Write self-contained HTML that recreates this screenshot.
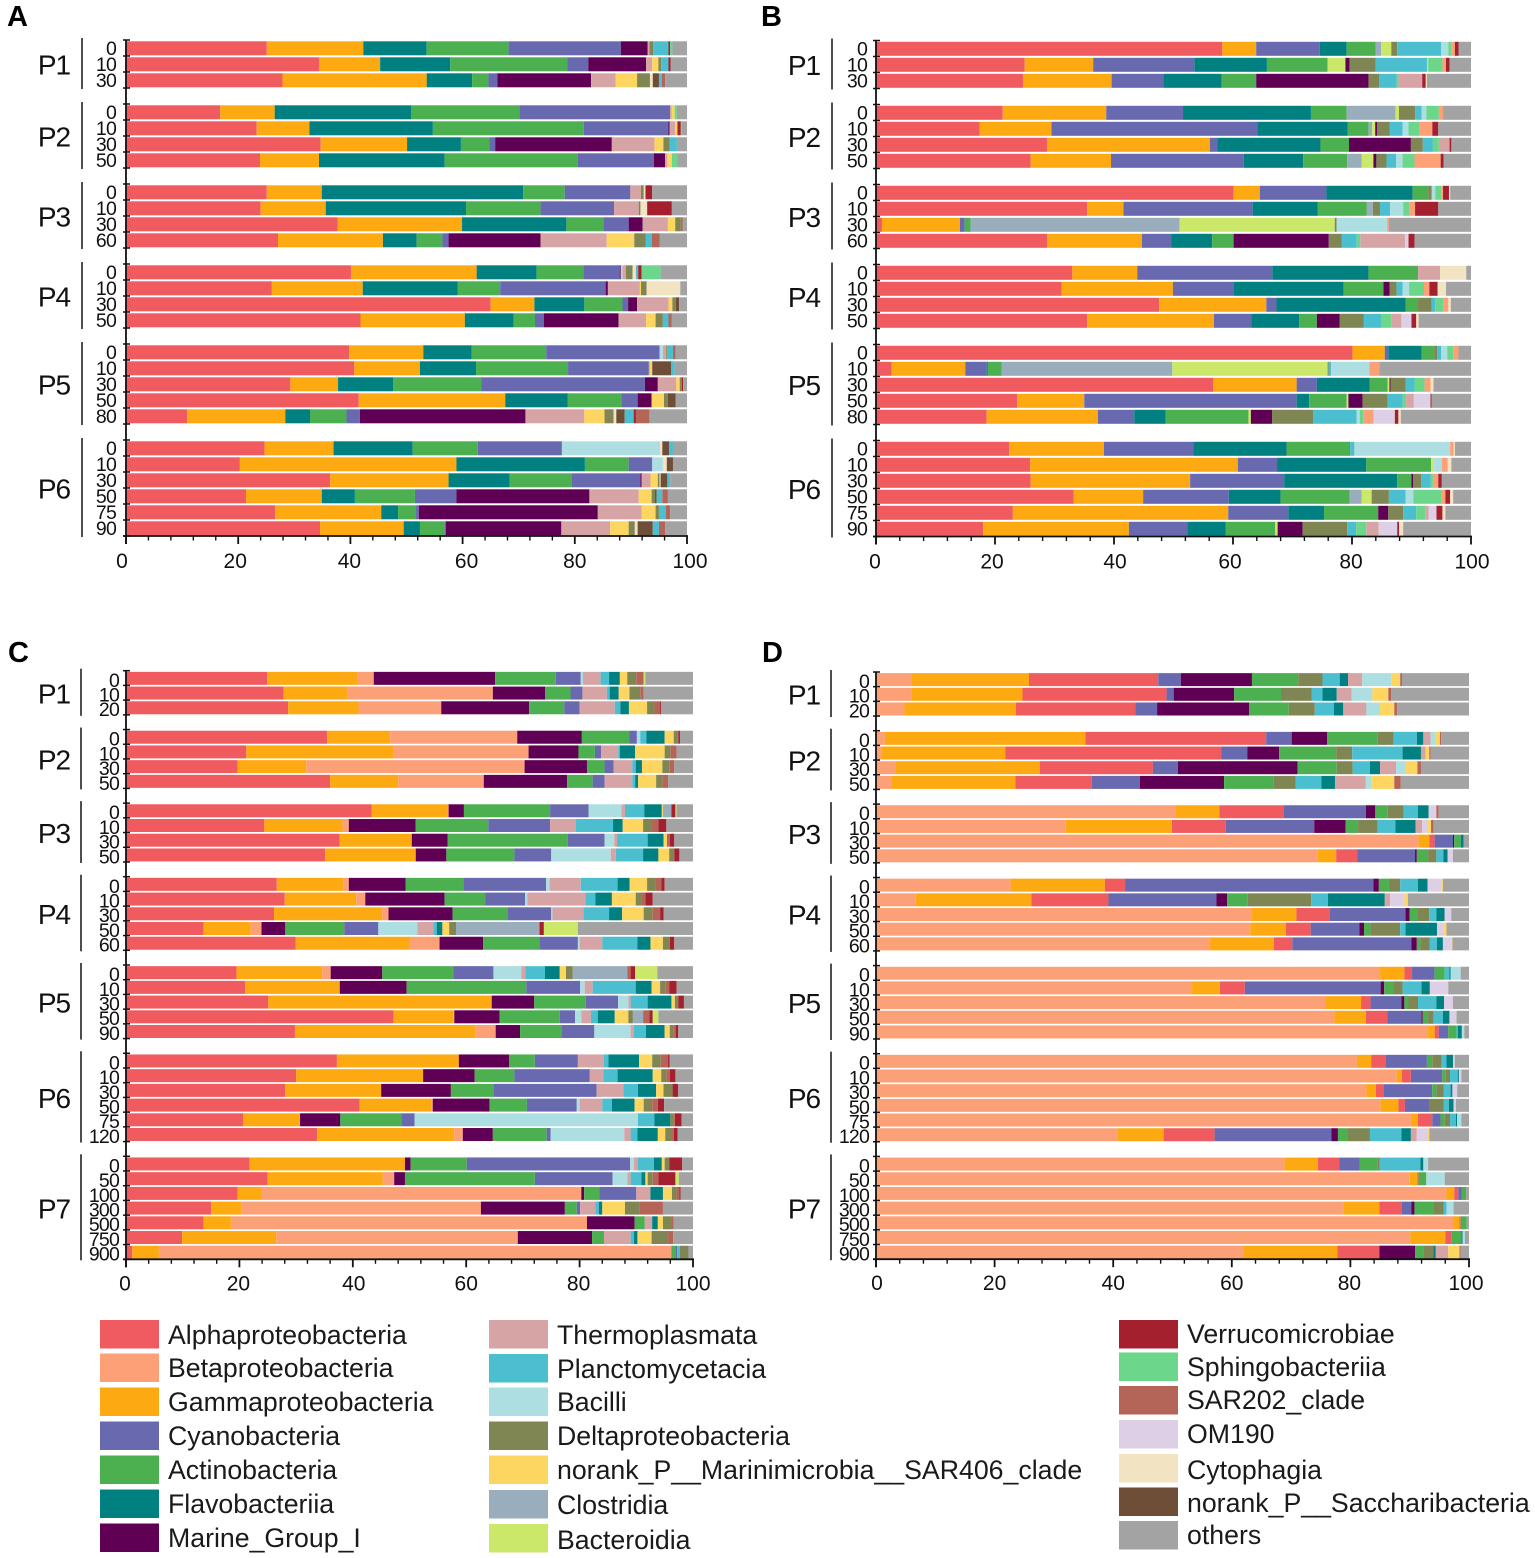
<!DOCTYPE html>
<html lang="en">
<head>
<meta charset="utf-8">
<title>Bacterial class composition by depth</title>
<style>
html,body{margin:0;padding:0;background:#fff;}
svg{display:block;font-family:"Liberation Sans",Arial,sans-serif;}
</style>
</head>
<body>
<svg id="figure" xmlns="http://www.w3.org/2000/svg" width="1535" height="1558" viewBox="0 0 1535 1558">
<rect x="0" y="0" width="1535" height="1558" fill="#ffffff"/>
</svg>
<script>
const taxonNames={a:'Alphaproteobacteria',u:'Betaproteobacteria',g:'Gammaproteobacteria',y:'Cyanobacteria',c:'Actinobacteria',f:'Flavobacteriia',m:'Marine_Group_I',t:'Thermoplasmata',p:'Planctomycetacia',b:'Bacilli',d:'Deltaproteobacteria',s:'norank_P__Marinimicrobia__SAR406_clade',l:'Clostridia',n:'Bacteroidia',v:'Verrucomicrobiae',h:'Sphingobacteriia',r:'SAR202_clade',w:'OM190',e:'Cytophagia',k:'norank_P__Saccharibacteria',o:'others'};
const taxonColors={a:'#EF5B5F',u:'#FCA077',g:'#FDAA12',y:'#6869AF',c:'#4CAF50',f:'#008080',m:'#600055',t:'#D7A4A6',p:'#4BBFD0',b:'#ACDEE2',d:'#7F8653',s:'#FDD662',l:'#9AADBD',n:'#CBE86B',v:'#A5202E',h:'#6CD68A',r:'#B56557',w:'#DDCFE5',e:'#F2E3C2',k:'#6F4E37',o:'#A3A3A3'};
const xTickLabels=[0,20,40,60,80,100];

const panelAGroups=['P1','P2','P3','P4','P5','P6'];
const panelADepths=[[0,10,30],[0,10,30,50],[0,10,30,60],[0,10,30,50],[0,10,30,50,80],[0,10,30,50,75,90]];
const panelAOrder=['a','g','f','c','y','m','b','t','s','d','e','k','p','v','h','r','o'];
const panelAValues=[
[25.1,17.2,11.3,14.6,20,4.8,0,.3,0,.7,0,0,2.7,.3,.4,0,2.6],
[34.4,10.9,12.5,20.9,3.7,10.3,0,1.1,1.1,.5,0,0,1.3,.4,0,0,2.9],
[27.9,25.7,8.1,2.9,1.6,16.7,0,4.4,3.8,2.3,.5,1.1,.5,0,0,.6,3.9],
[16.8,9.7,24.3,19.3,26.9,0,0,.3,.5,0,0,0,0,0,.4,0,1.8],
[23.3,9.4,22,26.9,15.1,.2,0,1,.4,0,0,0,0,.6,.2,0,.9],
[34.7,15.4,9.6,5.1,1,20.8,0,7.6,1.6,1.1,0,0,1.3,0,0,0,1.8],
[23.9,10.5,22.4,23.7,13.6,2,0,.4,.8,0,0,0,0,0,1,0,1.7],
[25.1,9.8,35.9,7.4,11.7,0,0,1.9,0,.5,.3,0,0,1.2,0,0,6.2],
[24,11.6,25,13.3,13.1,0,0,4.4,0,.3,1.2,0,0,4.4,0,0,2.7],
[37.7,22.2,18.6,6.6,4.5,2.5,0,4.5,1.3,1,0,0,0,0,0,.3,.8],
[27.1,18.7,6,4.6,1.1,16.4,0,11.8,4.9,2,0,0,1.1,0,0,1.4,4.9],
[40.1,22.4,10.7,8.3,6.5,.2,.3,.6,0,1.2,.6,0,.4,.6,3.4,0,4.7],
[26,16.2,16.9,7.6,18.8,.4,0,5.7,.2,1,6,0,0,0,0,0,1.2],
[65,7.8,8.9,6.8,1,1.6,0,5.6,.7,.6,0,.6,0,0,0,0,1.4],
[41.8,18.6,8.7,3.8,1.6,13.3,0,4.9,1.7,1.3,0,0,1,0,0,.6,2.7],
[39.8,13.2,8.6,13.3,20.2,0,.6,.6,0,.2,0,0,1,0,0,.5,2],
[40.7,11.7,10,16.4,14.4,0,0,.2,.4,0,0,3.4,.6,0,0,0,2.2],
[29.3,8.5,9.8,15.7,29.2,2.3,0,3.3,.6,.4,0,0,0,.2,0,0,.7],
[41.5,26.1,11.1,9.6,2.9,2.5,0,0,2.2,.7,0,1.4,0,0,0,0,2],
[10.9,17.5,4.4,6.5,2.4,29.5,0,10.5,3.6,1.6,.5,1.5,1.6,.4,0,2.4,6.7],
[24.7,12.3,14.1,11.6,15,0,17.5,0,0,0,.4,1.2,.7,0,0,0,2.5],
[20.3,38.6,22.9,7.8,4.2,0,1.9,0,0,0,.7,1.1,0,0,0,0,2.5],
[36.4,21.1,10.9,11.1,12.2,.2,0,1.6,1.3,.3,.2,1.2,.5,0,0,0,3],
[21.4,13.5,5.9,10.7,7.4,23.7,0,8.8,2.3,.6,0,.3,1,0,0,1,3.4],
[26.6,18.9,3,3.2,.5,31.9,0,7.8,2.5,.6,0,0,1.2,0,0,.8,3],
[34.6,14.9,2.9,4.4,.2,20.6,0,8.7,3.3,1.1,.5,2.7,1.1,0,0,1.1,3.9]
];

const panelBGroups=['P1','P2','P3','P4','P5','P6'];
const panelBDepths=[[0,10,30],[0,10,30,50],[0,10,30,60],[0,10,30,50],[0,10,30,50,80],[0,10,30,50,75,90]];
const panelBOrder=['a','g','y','f','c','l','n','m','d','p','b','h','t','u','w','v','e','o'];
const panelBValues=[
[58.2,5.7,10.7,4.5,4.9,.9,1.7,0,1,7.4,1.2,.5,0,.6,0,.6,0,2.1],
[25,11.5,17,12.2,10.2,0,3,.7,4.4,8.6,.2,2.4,0,.6,0,.6,0,3.6],
[24.7,14.9,8.7,9.8,5.8,0,0,18.9,1.8,2.9,0,.3,4,0,0,.6,.2,7.4],
[21.3,17.4,12.9,21.5,6,8.2,.6,0,2.7,1.1,.8,2.1,0,.7,0,0,0,4.7],
[17.4,12.1,34.6,15.2,3.5,.6,.5,.3,2.1,2.2,1,1.9,0,2.1,0,1,0,5.5],
[28.8,27.3,1.3,17.3,4.8,0,0,10.4,2,1.7,0,1,1.8,0,0,.3,0,3.3],
[26,13.5,22.3,10,7.4,2.4,2,.5,1.7,1.6,1.1,2,0,4.4,0,.5,0,4.6],
[60.1,4.4,11.2,14.5,2.6,0,0,0,.6,0,.6,1,0,.3,0,1,.2,3.5],
[35.5,6.1,21.7,10.9,8.3,1,0,0,1.2,1.7,2.2,1,0,1,0,3.9,0,5.5],
[1,13.1,.8,0,1,35.1,26.1,0,.3,0,8.5,0,0,.3,0,0,0,13.8],
[28.8,15.9,4.9,6.9,3.6,0,0,16,2.2,2.5,0,.6,7.5,0,.6,1,0,9.5],
[33,10.9,22.7,16.2,8.3,0,0,0,0,0,0,0,3.7,0,0,0,4.4,.8],
[31.2,18.7,10.2,18.5,6.7,0,0,1,1.2,1,1.1,2.5,0,.9,0,1.4,1.4,4.2],
[47.6,18,1.7,21.7,2.1,0,0,0,2.3,.6,0,1.4,0,.8,0,0,.4,3.4],
[35.5,21.3,6.3,8,3,0,0,3.8,4.1,3,0,1.6,1.7,0,1.7,.8,.4,8.8],
[80.1,5.4,.6,5.6,2.1,0,0,0,.5,.7,1,1,0,.9,0,0,0,2.1],
[2.6,12.4,3.6,.2,2.3,28.7,26.1,0,.2,.4,6.4,0,0,1.7,0,0,0,15.4],
[56.7,14,3.4,8.9,3,0,.3,.2,2.5,1.5,0,1.7,0,1,0,0,.5,6.3],
[23.7,11.3,35.7,2.1,6.3,0,.3,2.4,4.2,2.5,0,.6,1.3,0,2.8,.2,0,6.6],
[18.6,18.7,6.1,5.3,13.9,0,.4,3.6,6.9,7.3,.5,.6,0,1.7,3.6,.6,.4,11.8],
[22.4,15.9,15,15.7,10.5,0,0,0,.2,.7,16.1,0,0,.6,0,0,.2,2.7],
[25.9,34.9,6.6,15,10.9,0,.5,0,0,0,1.3,0,0,1,0,0,.6,3.3],
[26,26.8,15.8,19,2.4,0,0,.3,1.3,1.6,0,.4,0,.9,0,.6,0,4.9],
[33.2,11.7,14.4,8.7,11.6,2,1.7,0,2.9,2.8,1.3,4.8,0,.6,0,.8,.5,3],
[23,36.2,10.1,6,9.1,0,0,1.7,2.5,2.2,0,1.5,.6,0,1.3,1,.5,4.3],
[18,24.5,9.8,6.5,8.3,0,.4,4.2,7.5,1.5,0,1.7,2.1,0,3.1,.3,.7,11.4]
];

const panelCGroups=['P1','P2','P3','P4','P5','P6','P7'];
const panelCDepths=[[0,10,20],[0,10,30,50],[0,10,30,50],[0,10,30,50,60],[0,10,30,50,90],[0,10,30,50,75,120],[0,50,100,300,500,750,900]];
const panelCOrder=['a','g','u','m','c','y','b','t','p','f','s','d','l','r','v','n','o'];
const panelCValues=[
[24.9,16,2.8,21.4,10.7,4.4,.4,3.1,1.5,1.9,1.3,1.6,0,1.3,0,.3,8.4],
[27.8,11.3,25.6,9.2,4.5,2.1,0,4.3,.5,1.6,1.9,1.9,0,.6,0,0,8.7],
[28.6,12.4,14.6,15.5,6.2,2.7,0,6.2,1,1.5,3.2,1.3,0,1,.2,0,5.6],
[35.5,11.1,22.4,11.4,8.4,1.3,.6,0,1.1,3.2,1.6,.6,0,.2,.3,0,2.3],
[21.2,26,23.8,8.8,2.9,1.1,0,3,.3,2.7,5.2,1,0,1.1,0,0,2.9],
[19.7,12.1,38.5,11,3.1,1.6,0,3.3,.6,1.1,3.6,1.3,0,.8,0,0,3.3],
[36,12,15.1,14.7,4.5,2.1,0,4.9,.5,.5,3.2,1.1,0,1,0,0,4.4],
[43.3,13.4,.2,2.7,15.2,6.8,5.8,.6,3.4,3.1,.2,0,1.5,0,.7,.2,2.9],
[24.4,13.8,1.1,11.8,12.8,10.9,0,4.5,6.6,1.7,3.6,1.4,0,1.3,1.4,0,4.7],
[37.7,12.7,0,6.3,21.2,6.5,1.7,.5,5.4,2.8,.6,0,0,.5,.8,0,3.3],
[35.1,16,0,5.4,12,6.5,10.5,.9,4.8,2.7,1.9,.9,0,0,.9,0,2.4],
[26.6,11.7,1,10,10.2,14.6,.6,5.5,6.5,2.1,3.1,1.5,0,1,.6,0,5],
[28,12.6,1.6,14,7.2,7,.4,10.2,1.8,2.9,4.2,1.1,0,.6,1.3,0,7.1],
[26.1,19.1,1.1,11.3,9.7,7.7,.2,5.5,4.5,2.3,3.8,1.6,0,1.3,.6,0,5.2],
[13.7,8.3,1.9,4.2,10.4,6,6.9,2.8,.6,1,1.2,1.2,14.6,.2,.7,6,20.3],
[29.9,20.1,5.3,7.7,9.9,6.8,.3,4,6.2,2.3,2.2,1.2,0,0,.8,0,3.3],
[19.5,15.1,1.5,9.1,12.5,7.1,4.9,.7,3.5,2.6,1.1,1.2,9.6,.6,.8,3.9,6.3],
[21,16.7,0,11.8,21.1,9.5,.8,1.4,7.6,2.8,1.5,1,0,.6,1.3,0,2.9],
[25.1,39.4,0,7.5,9.1,5.7,1.8,.4,3,4.2,.6,.6,0,0,1,0,1.6],
[47.2,10.5,.2,8,10.6,2.7,1.1,1.7,1.2,3,2.4,.8,1.8,1.1,.6,1,6.1],
[29.8,31.8,3.6,4.3,7.4,5.7,6.4,.6,2.1,3.3,.9,.6,0,.5,.4,0,2.6],
[37.2,21.5,0,8.9,4.5,7.6,0,4.6,.8,5.4,2.3,1.5,0,1.3,.3,0,4.1],
[30,22.4,0,9.1,7,13.3,0,2.4,2.5,6.2,1.5,.9,0,.6,1,0,3.1],
[28.1,16.9,0,12.3,7.6,18.1,0,4.7,2.6,3.2,1.3,1.6,0,0,1,0,2.6],
[41.2,12.7,.2,10,6.6,8.8,.5,4,1.7,4,1.6,1.5,0,1,1.1,0,5.1],
[20.7,10,0,7.1,10.8,2.3,39.4,0,2.9,2.8,0,.5,0,.3,1.2,0,2],
[33.7,24.2,1.5,5.3,9.5,.7,13,1.1,1.2,3.6,1.3,1.2,0,.3,.7,0,2.7],
[21.8,27.4,0,1,9.9,28.8,.7,.7,2.8,1.4,.5,.8,0,0,2.3,0,1.9],
[25,20.3,2,1.9,22.9,13.7,2.6,.6,1.9,.7,.4,.9,0,1,3,.6,2.5],
[19.7,4.2,56.4,.5,2.7,6.5,0,2.5,0,2.2,1.6,.8,0,.5,.2,0,2.2],
[15,5.4,42.2,14.8,2.1,.6,0,2.7,.6,.6,4,2.5,0,4.2,0,0,5.3],
[13.7,4.8,62.8,8.4,1.8,0,0,1.3,0,1,.9,1.5,0,.4,0,0,3.4],
[9.9,16.6,42.6,13.1,2.1,0,0,4.7,.6,.6,2.5,2.9,0,.9,0,0,3.5],
[1.1,4.7,90.4,0,.8,.2,0,0,.5,0,0,1.5,0,0,0,0,.8]
];

const panelDGroups=['P1','P2','P3','P4','P5','P6','P7'];
const panelDDepths=[[0,10,20],[0,10,30,50],[0,10,30,50],[0,10,30,50,60],[0,10,30,50,90],[0,10,30,50,75,120],[0,50,100,300,500,750,900]];
const panelDOrder=['u','g','a','y','m','c','d','p','f','t','b','w','s','r','o'];
const panelDValues=[
[6,19.8,21.8,3.8,12,7.8,4.1,2.9,1.4,2.4,4.9,0,1.5,.3,11.3],
[6,18.7,24.3,1.2,10.2,7.9,5.2,1.8,2.4,2.5,3.5,0,2.7,.5,13.1],
[4.8,18.8,20.1,3.7,15.5,6.7,4.4,3.2,1.6,3.9,2.3,0,2.4,.5,12.1],
[1.5,33.8,30.5,4.3,6,8.5,2.7,3.9,1.1,1.2,.9,0,.7,.2,4.7],
[1,20.8,36.4,4.4,5.4,9.6,2.7,8.5,3.1,.8,0,0,.6,.2,6.5],
[3.3,24.3,19.1,4.2,20.2,6.6,2.7,2.9,1.7,2.7,1.6,0,2,.6,8.1],
[2.7,20.8,12.9,8.1,14.2,8.4,3.7,4.3,2.3,5.2,.9,0,3.9,1.1,11.5],
[50.5,7.4,10.9,13.8,1.6,2.1,2.7,2.4,1.8,0,0,1.3,0,.4,5.1],
[32,17.9,9.1,14.9,5.3,2.1,3.3,3,3.4,1.1,0,1,.5,.4,6],
[91.5,1.8,.9,3.1,.2,1.1,0,0,.5,0,0,0,0,0,.9],
[74.5,3.1,3.6,9.7,.3,1.9,1.4,1.2,.7,0,0,.9,0,0,2.7],
[22.7,15.9,3.4,41.9,.9,1.7,1.9,3,1.6,0,0,2.4,.2,0,4.4],
[6.7,19.5,13,18.2,1.8,3.5,10.7,2.8,9.6,.9,0,2.4,.6,0,10.3],
[63.4,7.5,5.6,12.8,.7,1.3,2,1.2,1.4,0,0,1.1,0,0,3],
[63.1,6,4.2,8.2,.8,1.1,5,.9,5.3,0,0,1.2,.4,0,3.8],
[56.3,10.8,3.1,20.1,.9,.6,1.6,1.2,1,0,0,1.4,.2,0,2.8],
[85,4.1,1.3,3.8,0,1.7,0,.8,.2,0,1.7,0,0,0,1.4],
[53.3,4.7,4.2,22.9,.6,1.5,1.6,3.2,1.4,0,0,3.1,0,0,3.5],
[75.8,6,1.6,5.2,.5,.7,1.6,3.1,1.3,0,0,1.5,0,0,2.7],
[77.3,5.3,3.6,5.8,.2,.9,.9,1.6,1.1,0,0,1.2,0,0,2.1],
[93.1,1.1,.7,1.6,0,1.4,0,.2,.7,0,.4,0,0,0,.8],
[81.1,2.4,2.5,6.9,0,.9,1.6,.8,1.1,0,0,.3,0,0,2.4],
[87.8,.9,1.5,5.3,0,.6,.7,1.3,.2,0,0,.4,0,0,1.3],
[82.7,1.6,1.3,8.2,0,.7,1.2,1.2,.3,0,0,.8,0,0,2],
[85.1,3,1.1,4.2,0,0,2.3,.9,.8,0,0,.4,0,0,2.2],
[90.2,1.2,2.4,1.4,0,.7,.9,1,.2,0,.7,0,0,0,1.3],
[40.7,7.8,8.6,19.7,1.1,1.6,3.8,5.3,1.6,1,0,1.9,.2,0,6.7],
[68.9,5.6,3.6,3.5,0,3,.3,6.9,.5,0,.8,0,0,0,6.9],
[90,1.3,.2,0,0,1.3,0,0,0,0,3.1,0,0,0,4.1],
[96.2,1.3,.7,.6,0,.7,0,0,0,0,0,0,0,0,.5],
[78.8,6.1,3.8,1.6,.5,3.3,1.6,.5,0,0,1.2,0,0,0,2.6],
[97.3,1.1,.2,0,0,1,0,0,0,0,0,0,0,0,.4],
[90.1,5.9,1.1,0,0,1.6,0,0,.2,0,.4,0,0,0,.7],
[61.9,15.9,7.1,0,6,1.5,1.6,0,.4,2.1,0,0,1.9,.2,1.4]
];

const legendColumn1=['a','u','g','y','c','f','m'];
const legendColumn2=['t','p','b','d','s','l','n'];
const legendColumn3=['v','h','r','w','e','k','o'];

const SVG_NS='http://www.w3.org/2000/svg';
const figure=document.getElementById('figure');

function make(tag,attrs,parent,text){
  const el=document.createElementNS(SVG_NS,tag);
  for(const key in attrs){el.setAttribute(key,attrs[key]);}
  if(text!==undefined){el.textContent=text;}
  (parent||figure).appendChild(el);
  return el;
}

function drawPanel(letter,letterX,letterY,geo,groups,depths,order,values){
  const root=make('g',{},figure);
  
  

  const title=make('text',{x:letterX,y:letterY,'font-size':29,'font-weight':'bold',fill:'#000'},root,letter);
  
  

  const xScale=function(v){return geo.x0+(v/100)*(geo.x100-geo.x0);};
  const bandTop=function(i){return geo.yTop+i*geo.band;};

  let band=0;
  let row=0;
  const tickLayer=[];
  groups.forEach(function(group,gi){
    const start=band;
    depths[gi].forEach(function(depth){
      const barGroup=make('g',{},root);
      
      
      let cumulative=0;
      const yBar=bandTop(band)+(geo.band-geo.barH)/2+0.3;
      values[row].forEach(function(v,ci){
        if(v>0){
          const key=order[ci];
          const seg=make('rect',{x:xScale(cumulative).toFixed(2),y:yBar.toFixed(2),width:(xScale(cumulative+v)-xScale(cumulative)).toFixed(2),height:geo.barH,fill:taxonColors[key]},barGroup);
          
          
        }
        cumulative+=v;
      });
      const depthLabel=make('text',{x:geo.labelX,y:(bandTop(band)+geo.band/2+7.2+geo.labelDrop).toFixed(2),'font-size':19.5,'text-anchor':'end','letter-spacing':'-0.8',fill:'#111'},root,String(depth));
      
      
      tickLayer.push(bandTop(band));
      band+=1;
      row+=1;
    });
    tickLayer.push(bandTop(band));
    const bracket=make('line',{x1:geo.bracketX,x2:geo.bracketX,y1:bandTop(start)-2,y2:bandTop(band)+1,stroke:'#222','stroke-width':1.6},root);
    
    
    const groupLabel=make('text',{x:geo.groupX,y:((bandTop(start)+bandTop(band))/2+10.5).toFixed(2),'font-size':28,'text-anchor':'middle','letter-spacing':'-1',fill:'#111'},root,group);
    
    
    band+=1;
  });
  const lastBand=band-1;
  const yBottom=bandTop(lastBand);

  const yAxis=make('line',{x1:geo.x0,x2:geo.x0,y1:geo.yTop-0.5,y2:yBottom+8,stroke:'#111','stroke-width':1.8},root);
  
  
  const xAxis=make('line',{x1:geo.x0-3,x2:xScale(100)+1,y1:yBottom,y2:yBottom,stroke:'#111','stroke-width':1.8},root);
  
  

  tickLayer.forEach(function(y){
    const t=make('line',{x1:geo.x0-3,x2:geo.x0+4,y1:y,y2:y,stroke:'#111','stroke-width':1.5},root);
    
    
  });
  for(let v=0;v<=100;v+=4){
    const major=v%20===0;
    const t=make('line',{x1:xScale(v),x2:xScale(v),y1:yBottom,y2:yBottom+(major?8:4.5),stroke:'#111','stroke-width':major?1.8:1.4},root);
    
    
  }
  xTickLabels.forEach(function(v,i){
    const t=make('text',{x:xScale(v)+geo.tickNudge[i],y:yBottom+geo.tickDrop,'font-size':21,'text-anchor':'middle',fill:'#111'},root,String(v));
    
    
  });
}

drawPanel('A',7,26,{x0:126,x100:687,yTop:40,band:16,barH:14,labelX:116,bracketX:82,groupX:54,labelDrop:0,tickDrop:32,tickNudge:[-4,-3,-1,4,0,3]},panelAGroups,panelADepths,panelAOrder,panelAValues);
drawPanel('B',761,26,{x0:876,x100:1471,yTop:40.5,band:16,barH:14,labelX:867,bracketX:832,groupX:804,labelDrop:0,tickDrop:32,tickNudge:[-1,-3,1,-3,-1,1]},panelBGroups,panelBDepths,panelBOrder,panelBValues);
drawPanel('C',8,662,{x0:126,x100:693,yTop:670.7,band:14.715,barH:13,labelX:119,bracketX:81,groupX:54,labelDrop:1.5,tickDrop:31,tickNudge:[-1,-1,1,0,-1,0]},panelCGroups,panelCDepths,panelCOrder,panelCValues);
drawPanel('D',762,662,{x0:876,x100:1469,yTop:672,band:14.68,barH:13,labelX:869,bracketX:831,groupX:804,labelDrop:1.5,tickDrop:31,tickNudge:[1,0,0,0,-1,-3]},panelDGroups,panelDDepths,panelDOrder,panelDValues);

function drawLegend(keys,swatchX,textX,swatchYs,textYs){
  keys.forEach(function(key,i){
    const item=make('g',{},figure);
    
    
    const swatch=make('rect',{x:swatchX,y:swatchYs[i],width:59,height:28.5,fill:taxonColors[key]},item);
    
    
    const label=make('text',{x:textX,y:textYs[i]+9,'font-size':26.7,fill:'#1a1a1a'},item,taxonNames[key]);
    
    
  });
}
drawLegend(legendColumn1,100,168,[1320,1353.5,1387.5,1421.5,1455.5,1489.5,1523.5],[1335,1368,1402,1436,1470,1504,1538]);
drawLegend(legendColumn2,489,557,[1320,1354,1387.5,1421.5,1455.5,1490,1524],[1335,1369,1402,1436,1470,1505,1540]);
drawLegend(legendColumn3,1119,1187,[1320,1352.5,1386,1420,1454,1487.5,1521],[1334,1367,1400,1434,1470,1503,1535]);
</script>
</body>
</html>
